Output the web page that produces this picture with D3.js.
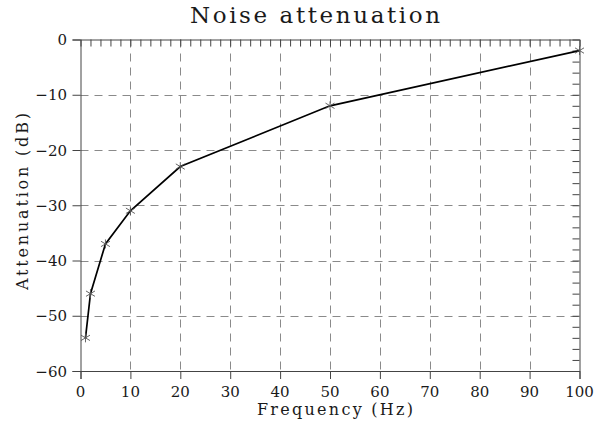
<!DOCTYPE html>
<html><head><meta charset="utf-8">
<script src="https://cdn.jsdelivr.net/npm/d3@7"></script>
<style>body{margin:0;background:#fff}svg{display:block}text{font-family:"DejaVu Serif",serif;fill:#1a1a1a}</style>
</head><body><svg id="c" width="595" height="423"></svg>
<script>
const frequency = [1, 2, 5, 10, 20, 50, 100];
const attenuation = [-54, -46, -37, -31, -23, -12, -2];
const xTicks = [0,10,20,30,40,50,60,70,80,90,100];
const yTicks = [0,-10,-20,-30,-40,-50,-60];
const titleText = "Noise attenuation", xLabel = "Frequency (Hz)", yLabel = "Attenuation (dB)";

(function(){
const svg = d3.select("#c");
const L=80.5, R=579.5, T=39.5, B=371;
const x = d3.scaleLinear().domain([0,100]).range([L,R]);
const y = d3.scaleLinear().domain([-60,0]).range([B,T]);
const g = svg.append("g");

// grid
g.append("g").selectAll("line").data(xTicks.slice(1,-1)).join("line")
 .attr("x1",d=>Math.round(x(d))+0.5).attr("x2",d=>Math.round(x(d))+0.5).attr("y1",T).attr("y2",B)
 .attr("stroke","#8a8a8a").attr("stroke-dasharray","8,6");
g.append("g").selectAll("line").data(yTicks.slice(1,-1)).join("line")
 .attr("y1",d=>Math.round(y(d))+0.5).attr("y2",d=>Math.round(y(d))+0.5).attr("x1",L).attr("x2",R)
 .attr("stroke","#8a8a8a").attr("stroke-dasharray","8,6");

// axes
const axBottom = d3.axisBottom(x).tickValues(xTicks).tickSize(8).tickFormat("");
const axLeft = d3.axisLeft(y).tickValues(yTicks).tickSize(8).tickFormat("");
const minorX = d3.range(0,101,2), minorY = d3.range(-60,1,2);
const axTop = d3.axisBottom(x).tickValues(minorX).tickSize(7).tickSizeOuter(0).tickFormat("");
const axRight = d3.axisLeft(y).tickValues(minorY).tickSize(7).tickSizeOuter(0).tickFormat("");
svg.append("g").attr("transform",`translate(0,${B})`).call(axBottom);
svg.append("g").attr("transform",`translate(${L},0)`).call(axLeft);
svg.append("g").attr("transform",`translate(0,${T})`).call(axTop);
svg.append("g").attr("transform",`translate(${R},0)`).call(axRight);
svg.selectAll(".domain,.tick line").attr("stroke","#444").attr("stroke-width",1);

// tick labels
svg.append("g").selectAll("text").data(xTicks).join("text")
 .attr("x",d=>x(d)).attr("y",397).attr("text-anchor","middle").attr("font-size",15).text(d=>d);
svg.append("g").selectAll("text").data(yTicks).join("text")
 .attr("x",67).attr("y",d=>y(d)+5.5).attr("text-anchor","end").attr("font-size",15)
 .text(d=>d<0?"\u2212"+Math.abs(d):d);

// line
const pts = frequency.map((f,i)=>[f,attenuation[i]]);
svg.append("path").datum(pts).attr("fill","none").attr("stroke","#000").attr("stroke-width",1.7)
 .attr("d",d3.line().x(d=>x(d[0])).y(d=>y(d[1])));
// markers
const mk = svg.append("g").attr("stroke","#555").attr("stroke-width",0.9);
pts.forEach(p=>{
  const cx=x(p[0]), cy=y(p[1]), s=4.5;
  mk.append("line").attr("x1",cx).attr("x2",cx).attr("y1",cy-s).attr("y2",cy+s);
  mk.append("line").attr("x1",cx-s).attr("x2",cx+s).attr("y1",cy-s*0.6).attr("y2",cy+s*0.6);
  mk.append("line").attr("x1",cx-s).attr("x2",cx+s).attr("y1",cy+s*0.6).attr("y2",cy-s*0.6);
});

// titles
svg.append("text").attr("x",315).attr("y",23).attr("text-anchor","middle").attr("font-size",23)
 .attr("textLength",250).attr("lengthAdjust","spacing").text(titleText);
svg.append("text").attr("x",335).attr("y",415).attr("text-anchor","middle").attr("font-size",16)
 .attr("textLength",156).attr("lengthAdjust","spacing").text(xLabel);
svg.append("text").attr("transform","translate(28,201.5) rotate(-90)").attr("text-anchor","middle").attr("font-size",16)
 .attr("textLength",177).attr("lengthAdjust","spacing").text(yLabel);
})();
</script></body></html>
